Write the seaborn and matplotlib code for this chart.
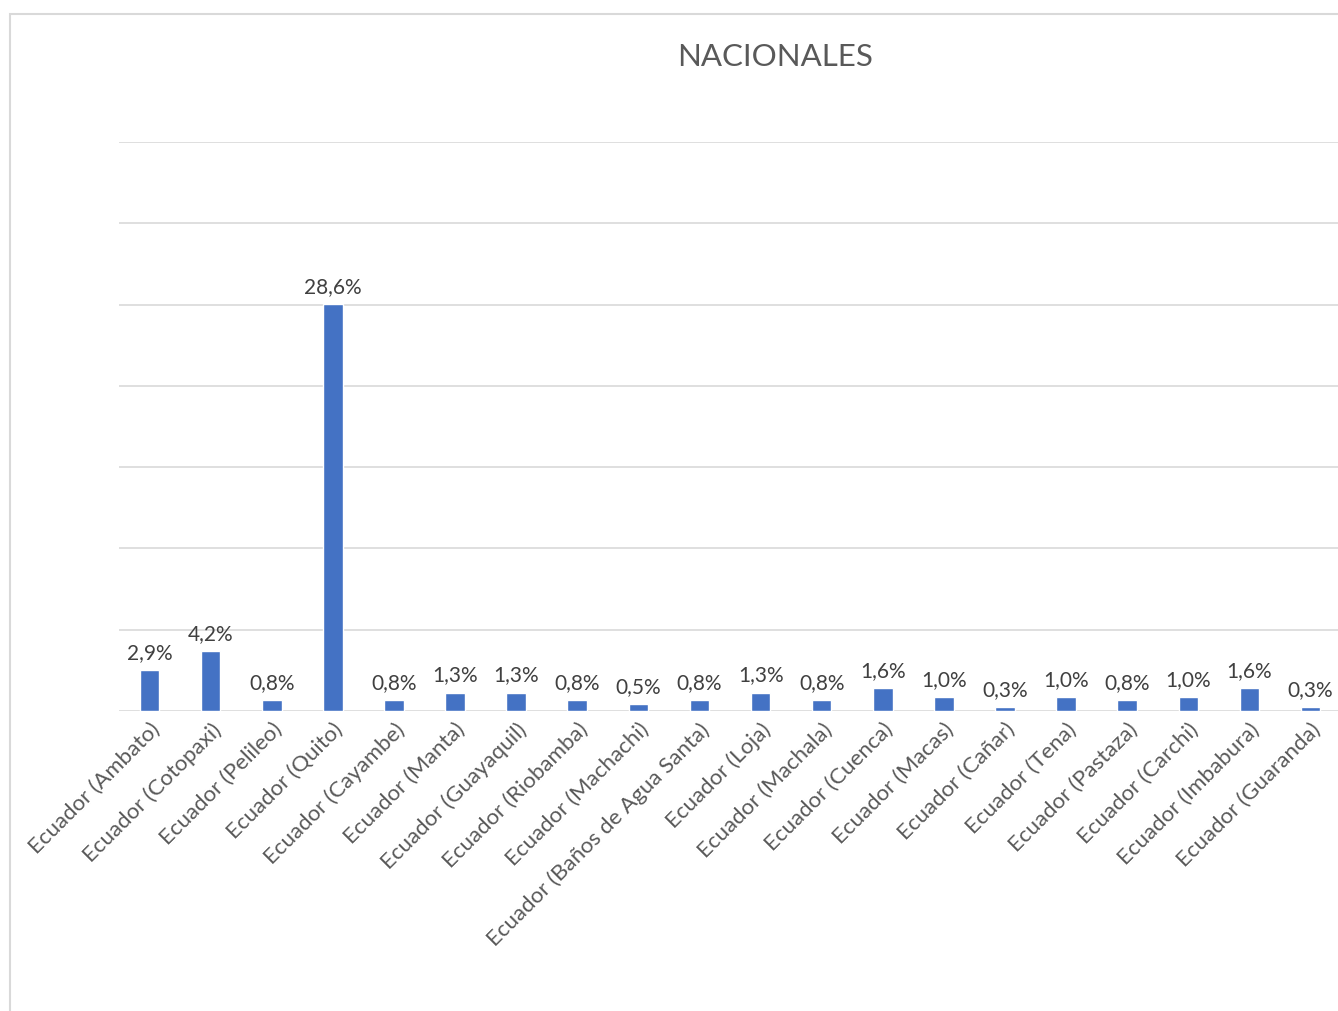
import matplotlib
matplotlib.use("Agg")
import matplotlib.pyplot as plt
import seaborn as sns
import numpy as np
import pandas as pd

categorias = [
    "Ecuador (Ambato)", "Ecuador (Cotopaxi)", "Ecuador (Pelileo)", "Ecuador (Quito)",
    "Ecuador (Cayambe)", "Ecuador (Manta)", "Ecuador (Guayaquil)", "Ecuador (Riobamba)",
    "Ecuador (Machachi)", "Ecuador (Baños de Agua Santa)", "Ecuador (Loja)", "Ecuador (Machala)",
    "Ecuador (Cuenca)", "Ecuador (Macas)", "Ecuador (Cañar)", "Ecuador (Tena)",
    "Ecuador (Pastaza)", "Ecuador (Carchi)", "Ecuador (Imbabura)", "Ecuador (Guaranda)",
]
valores = [2.9, 4.2, 0.8, 28.6, 0.8, 1.3, 1.3, 0.8, 0.5, 0.8,
           1.3, 0.8, 1.6, 1.0, 0.3, 1.0, 0.8, 1.0, 1.6, 0.3]
titulo = "NACIONALES"

sns.set_theme(style="white")
plt.rcParams["font.family"] = ["Lato", "DejaVu Sans"]

df = pd.DataFrame({"ciudad": categorias, "valor": valores})

W, H = 1338, 1011
fig = plt.figure(figsize=(W / 100, H / 100), dpi=100)
ax = fig.add_axes([119 / W, 300 / H, (W - 119) / W, 569 / H])

sns.barplot(data=df, x="ciudad", y="valor", color="#4472C4", saturation=1,
            width=0.32, ax=ax, zorder=3)

ax.set_ylim(0, 40)
ax.set_yticks(np.linspace(0, 40, 8))
ax.set_yticklabels([])
ax.grid(axis="y", color="#D9D9D9", lw=1.2, zorder=0)
ax.tick_params(axis="both", length=0)
ax.set_xlim(-0.5, 19.45)
for s in ax.spines.values():
    s.set_visible(False)

ax.set_xlabel("")
ax.set_ylabel("")
ax.set_xticks(range(len(categorias)))
ax.set_xticklabels(categorias, rotation=45, ha="right", rotation_mode="anchor",
                   fontsize=16, color="#595959")
ax.tick_params(axis="x", pad=6)

etiquetas = [f"{v:.1f}%".replace(".", ",") for v in valores]
ax.bar_label(ax.containers[0], labels=etiquetas, padding=5, fontsize=15, color="#404040")

fig.text(775 / W, 1 - 57 / H, titulo, ha="center", va="center", fontsize=22.5, color="#595959")

marco = plt.Rectangle((10 / W, -0.1), 1.2, 1.1 - 14 / H, transform=fig.transFigure,
                      fill=False, edgecolor="#D9D9D9", lw=1.5)
fig.add_artist(marco)

fig.savefig("out.png", dpi=100)
